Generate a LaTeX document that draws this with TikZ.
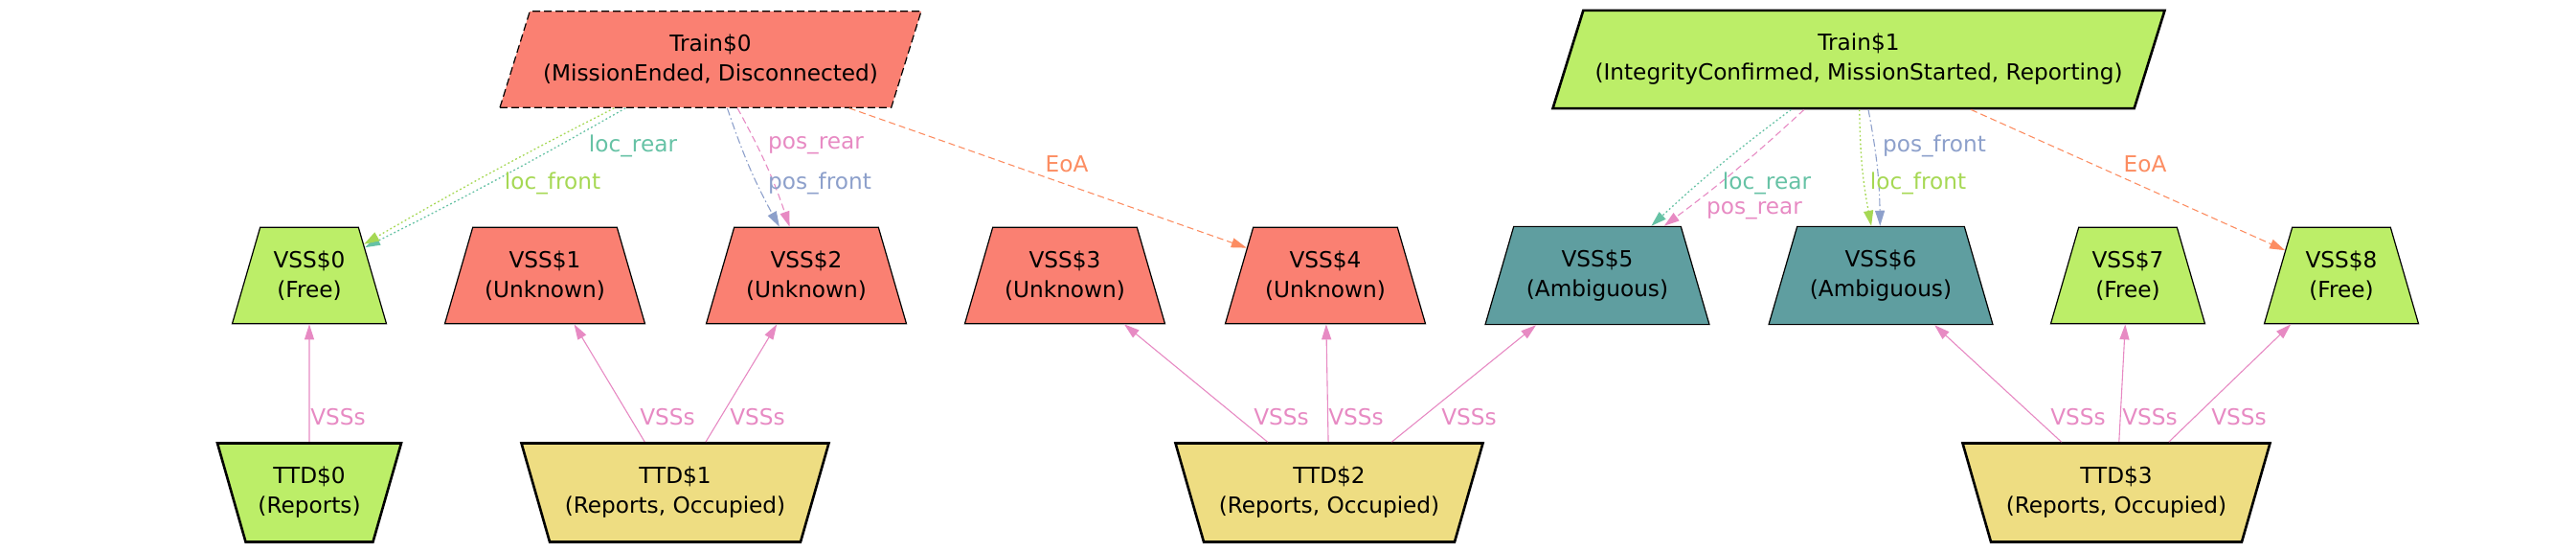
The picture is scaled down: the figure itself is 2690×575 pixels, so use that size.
\documentclass[tikz,border=0pt]{standalone}
\usepackage{fontspec}
\setmainfont{DejaVu Sans}
\usetikzlibrary{shapes.geometric,arrows.meta}

\begin{document}
\begin{tikzpicture}[x=0.5pt,y=0.5pt,
    every node/.style={font=\fontsize{11.6}{15.5}\selectfont},
    gnode/.style={trapezium,trapezium stretches body,draw=black,line width=0.6pt,
        align=center,inner xsep=2pt,inner ysep=12.2pt},
    vss/.style={gnode,trapezium left angle=73.8,trapezium right angle=73.8},
    ttd/.style={gnode,trapezium left angle=106,trapezium right angle=106,inner ysep=12.4pt,line width=1.3pt},
    train/.style={gnode,trapezium left angle=72.7,trapezium right angle=107.3},
    link/.style={line width=0.55pt,-{Triangle[length=8pt,width=5pt]}},
    lbl/.style={inner sep=0pt},
    dotline/.style={line width=0.65pt,dash pattern=on 0.9pt off 1.3pt},
    dashline/.style={dash pattern=on 3.5pt off 2pt},
    dashdotline/.style={dash pattern=on 4pt off 1.5pt on 0.8pt off 1.5pt},
  ]
        \definecolor{cgreen}{HTML}{BCEE68}
        \definecolor{csalmon}{HTML}{FA8072}
        \definecolor{cteal}{HTML}{5F9EA0}
        \definecolor{ckhaki}{HTML}{EEDD82}
        \definecolor{clocrear}{HTML}{66C2A5}
        \definecolor{ceoa}{HTML}{FC8D62}
        \definecolor{cposfront}{HTML}{8DA0CB}
        \definecolor{cposrear}{HTML}{E78AC3}
        \definecolor{clocfront}{HTML}{A6D854}
        \useasboundingbox (0,0) rectangle (2690,575);

        % trains
        \node[train,fill=csalmon,dash pattern=on 4pt off 2pt,minimum width=220pt] (train0) at (742,513)
            {Train\$0\\(MissionEnded, Disconnected)};
        \node[train,fill=cgreen,line width=1.3pt,minimum width=319.5pt] (train1) at (1941,513)
            {Train\$1\\(IntegrityConfirmed, MissionStarted, Reporting)};

        % virtual sub-sections
        \foreach \i/\x/\c/\st/\w in {0/323/cgreen/Free/80.5,1/569/csalmon/Unknown/104.5,
            2/842/csalmon/Unknown/104.5,3/1112/csalmon/Unknown/104.5,4/1384/csalmon/Unknown/104.5,
            5/1668/cteal/Ambiguous/117,6/1964/cteal/Ambiguous/117,7/2222/cgreen/Free/80.5,
            8/2445/cgreen/Free/80.5} {
            \node[vss,fill=\c,minimum width=\w pt] (vss\i) at (\x,287.5) {VSS\$\i\\(\st)};
        }

        % track sections
        \node[ttd,fill=cgreen,minimum width=96pt] (ttd0) at (323,61) {TTD\$0\\(Reports)};
        \node[ttd,fill=ckhaki,minimum width=160.5pt] (ttd1) at (705,61) {TTD\$1\\(Reports, Occupied)};
        \node[ttd,fill=ckhaki,minimum width=160.5pt] (ttd2) at (1388,61) {TTD\$2\\(Reports, Occupied)};
        \node[ttd,fill=ckhaki,minimum width=160.5pt] (ttd3) at (2210,61) {TTD\$3\\(Reports, Occupied)};

        % train pointers
        \draw[link,clocrear,dotline] (train0) to[bend left=1.5] (vss0);
        \draw[link,clocfront,dotline] (train0) to[bend right=1.5] (vss0);
        \draw[link,cposfront,dashdotline] (train0) to[bend right=5] (vss2);
        \draw[link,cposrear,dashline] (train0) to[bend left=5] (vss2);
        \draw[link,ceoa,dashline] (train0) -- (vss4);
        \draw[link,clocrear,dotline] (train1) to[bend right=3] (vss5);
        \draw[link,cposrear,dashline] (train1) to[bend left=3] (vss5);
        \draw[link,clocfront,dotline] (train1) to[bend right=5] (vss6);
        \draw[link,cposfront,dashdotline] (train1) to[bend left=5] (vss6);
        \draw[link,ceoa,dashline] (train1) -- (vss8);

        \node[lbl,text=clocrear] (t0lr) at (661,423) {loc\_rear};
        \node[lbl,text=clocfront] (t0lf) at (577,384) {loc\_front};
        \node[lbl,text=cposrear] (t0pr) at (852,423) {pos\_rear};
        \node[lbl,text=cposfront] (t0pf) at (856,384) {pos\_front};
        \node[lbl,text=ceoa] (t0eoa) at (1114,404) {EoA};
        \node[lbl,text=clocrear] (t1lr) at (1845,384) {loc\_rear};
        \node[lbl,text=cposrear] (t1pr) at (1832,355) {pos\_rear};
        \node[lbl,text=cposfront] (t1pf) at (2020,423) {pos\_front};
        \node[lbl,text=clocfront] (t1lf) at (2003,384) {loc\_front};
        \node[lbl,text=ceoa] (t1eoa) at (2240,404) {EoA};

        % sections to sub-sections
        \foreach \t/\v in {0/0,1/1,1/2,2/3,2/4,2/5,3/6,3/7,3/8}
            \draw[link,cposrear] (ttd\t) -- (vss\v);
        \foreach \x [count=\k] in {353,697,791,1338,1416,1534,2170,2245,2338}
            \node[lbl,text=cposrear] (vl\k) at (\x,140) {VSSs};
\end{tikzpicture}
\end{document}
